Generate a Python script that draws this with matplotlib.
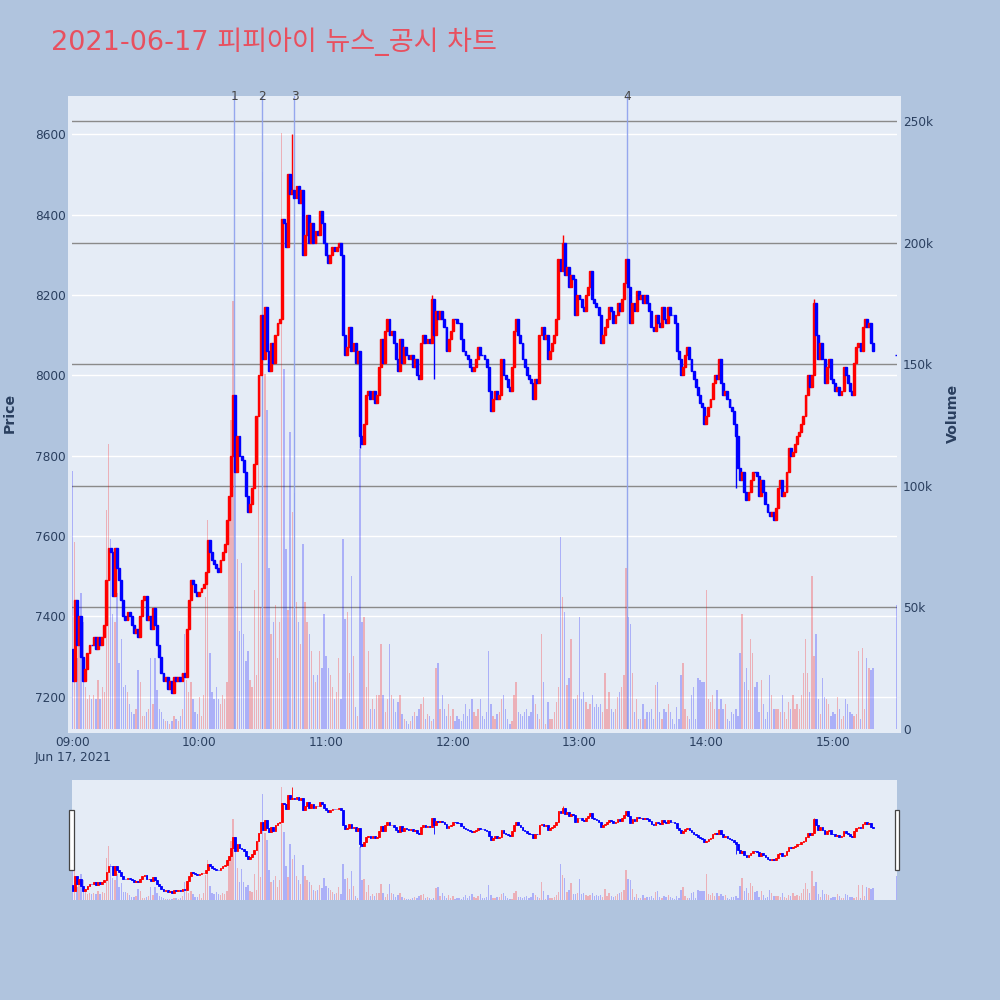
import matplotlib
matplotlib.use('Agg')
import matplotlib.pyplot as plt
import numpy as np
from matplotlib.patches import Rectangle
from matplotlib.transforms import blended_transform_factory

# ---------------- data ----------------
title = "2021-06-17 피피아이 뉴스_공시 차트"
first_open = 7320
closes = [
    7240, 7440, 7330, 7400, 7300, 7240, 7270, 7310, 7330, 7330,
    7350, 7320, 7350, 7330, 7350, 7380, 7490, 7570, 7560, 7450,
    7570, 7520, 7490, 7440, 7400, 7390, 7410, 7400, 7380, 7360,
    7370, 7350, 7400, 7440, 7450, 7390, 7400, 7370, 7420, 7380,
    7330, 7300, 7260, 7240, 7250, 7220, 7240, 7210, 7250, 7240,
    7250, 7240, 7260, 7250, 7370, 7440, 7490, 7480, 7460, 7450,
    7460, 7470, 7480, 7510, 7590, 7560, 7540, 7530, 7520, 7510,
    7540, 7560, 7580, 7640, 7700, 7800, 7950, 7760, 7850, 7800,
    7790, 7760, 7700, 7660, 7680, 7720, 7780, 7900, 8000, 8150,
    8040, 8170, 8060, 8010, 8080, 8030, 8100, 8130, 8140, 8390,
    8380, 8320, 8500, 8450, 8460, 8440, 8470, 8430, 8460, 8300,
    8350, 8400, 8330, 8380, 8330, 8360, 8350, 8410, 8380, 8330,
    8300, 8280, 8300, 8320, 8310, 8320, 8330, 8300, 8100, 8050,
    8070, 8120, 8060, 8080, 8030, 8060, 7850, 7830, 7880, 7950,
    7960, 7940, 7960, 7930, 7950, 8020, 8090, 8030, 8110, 8140,
    8100, 8110, 8080, 8040, 8010, 8090, 8030, 8070, 8050, 8040,
    8050, 8020, 8040, 8000, 7990, 8080, 8100, 8080, 8090, 8080,
    8190, 8100, 8160, 8140, 8160, 8140, 8120, 8060, 8090, 8110,
    8140, 8140, 8130, 8130, 8090, 8060, 8050, 8040, 8020, 8010,
    8020, 8040, 8070, 8050, 8050, 8040, 8020, 7960, 7910, 7940,
    7960, 7940, 7950, 8040, 8000, 7990, 7970, 7960, 8020, 8110,
    8140, 8100, 8080, 8040, 8020, 8000, 7990, 7980, 7940, 7990,
    7980, 8100, 8120, 8090, 8100, 8040, 8060, 8080, 8100, 8140,
    8290, 8260, 8330, 8250, 8270, 8220, 8250, 8240, 8150, 8200,
    8190, 8170, 8160, 8200, 8220, 8260, 8190, 8180, 8170, 8150,
    8080, 8100, 8120, 8140, 8170, 8160, 8130, 8150, 8180, 8160,
    8190, 8230, 8290, 8220, 8130, 8180, 8160, 8210, 8190, 8200,
    8180, 8200, 8180, 8160, 8120, 8110, 8150, 8130, 8120, 8170,
    8140, 8130, 8170, 8150, 8150, 8130, 8060, 8040, 8000, 8020,
    8050, 8070, 8040, 8010, 7990, 7970, 7950, 7930, 7920, 7880,
    7900, 7920, 7940, 7980, 8000, 7990, 8040, 7980, 7950, 7960,
    7940, 7920, 7910, 7880, 7850, 7770, 7740, 7760, 7710, 7690,
    7710, 7740, 7760, 7760, 7750, 7700, 7740, 7710, 7680, 7660,
    7650, 7660, 7640, 7670, 7720, 7740, 7700, 7710, 7760, 7820,
    7800, 7810, 7830, 7850, 7860, 7880, 7900, 7950, 8000, 7970,
    8000, 8180, 8100, 8040, 8080, 8040, 7980, 8020, 8040, 7990,
    7980, 7960, 7970, 7950, 7960, 8020, 8000, 7980, 7960, 7950,
    8030, 8070, 8080, 8060, 8120, 8140, 8120, 8130, 8080, 8060,
]
volumes_k = [
    106, 77, 29, 44, 56, 44, 17, 12, 14, 12,
    14, 12, 20, 12, 17, 15, 90, 117, 78, 47,
    44, 56, 27, 37, 17, 18, 15, 10, 7, 6,
    8, 24, 19, 5, 5, 7, 8, 29, 10, 29,
    16, 8, 7, 4, 3, 3, 2, 3, 5, 4,
    3, 5, 8, 39, 20, 15, 19, 12, 7, 6,
    13, 5, 14, 54, 86, 31, 15, 12, 17, 12,
    10, 14, 12, 19, 95, 127, 176, 115, 70, 40,
    68, 39, 28, 32, 20, 17, 57, 22, 145, 50,
    229, 146, 131, 66, 39, 44, 51, 29, 44, 245,
    148, 74, 49, 122, 89, 97, 52, 44, 35, 76,
    52, 44, 39, 32, 22, 19, 22, 32, 25, 47,
    30, 25, 22, 17, 12, 15, 29, 12, 78, 45,
    48, 23, 63, 30, 9, 5, 115, 44, 46, 17,
    32, 8, 12, 8, 14, 14, 35, 14, 7, 12,
    35, 14, 12, 7, 11, 14, 6, 4, 3, 2,
    3, 5, 7, 5, 8, 10, 13, 4, 6, 5,
    3, 4, 25, 27, 8, 14, 8, 5, 10, 5,
    8, 3, 5, 4, 3, 6, 10, 5, 8, 12,
    7, 5, 8, 12, 5, 4, 7, 32, 10, 5,
    4, 6, 7, 12, 14, 8, 4, 2, 3, 14,
    19, 7, 6, 5, 7, 8, 5, 7, 14, 10,
    6, 4, 39, 19, 2, 11, 4, 4, 7, 11,
    17, 79, 54, 48, 18, 21, 37, 12, 12, 14,
    46, 12, 15, 11, 8, 10, 14, 9, 10, 9,
    10, 7, 23, 8, 15, 8, 7, 8, 13, 15,
    17, 22, 66, 46, 43, 23, 7, 12, 4, 4,
    10, 4, 7, 7, 8, 4, 18, 19, 7, 4,
    8, 7, 10, 7, 4, 2, 9, 4, 22, 27,
    8, 5, 4, 14, 17, 4, 21, 20, 19, 19,
    57, 12, 11, 14, 8, 16, 8, 12, 8, 10,
    4, 3, 7, 6, 8, 5, 31, 47, 19, 25,
    16, 37, 31, 17, 19, 7, 20, 10, 4, 7,
    22, 14, 8, 8, 8, 7, 14, 7, 4, 11,
    8, 14, 8, 10, 8, 14, 23, 37, 23, 15,
    63, 30, 39, 12, 6, 21, 13, 12, 10, 5,
    7, 6, 13, 8, 4, 5, 12, 10, 7, 6,
    5, 6, 32, 4, 33, 8, 29, 25, 24, 25,
]
# closing auction (15:30)
auction_minute = 390
auction_price = 8050
auction_volume_k = 51
# notable wicks {minute: price}
wick_high = {104: 8600, 170: 8200, 232: 8348, 351: 8190}
wick_low = {136: 7820, 171: 7990, 314: 7720}
# news / disclosure markers (minutes after 09:00)
event_minutes = [76.6, 89.6, 105.0, 262.6]
event_labels = ["1", "2", "3", "4"]

price_ticks = [7200, 7400, 7600, 7800, 8000, 8200, 8400, 8600]
vol_ticks = [0, 50000, 100000, 150000, 200000, 250000]
vol_tick_labels = ["0", "50k", "100k", "150k", "200k", "250k"]
time_tick_minutes = [0, 60, 120, 180, 240, 300, 360]
time_tick_labels = ["09:00", "10:00", "11:00", "12:00", "13:00", "14:00", "15:00"]
date_label = "Jun 17, 2021"

# ---------------- derived ----------------
closes = np.array(closes, dtype=float)
opens = np.concatenate([[first_open], closes[:-1]])
x = np.arange(len(closes), dtype=float)
highs = np.maximum(opens, closes)
lows = np.minimum(opens, closes)
for k, v in wick_high.items():
    highs[k] = max(highs[k], v)
for k, v in wick_low.items():
    lows[k] = min(lows[k], v)
vols = np.array(volumes_k, dtype=float) * 1000

x_all = np.append(x, auction_minute)
o_all = np.append(opens, auction_price)
c_all = np.append(closes, auction_price)
h_all = np.append(highs, auction_price)
l_all = np.append(lows, auction_price)
v_all = np.append(vols, auction_volume_k * 1000)
up = c_all > o_all

RED = "#FF0000"
BLUE = "#0000FF"
cand_col = np.where(up, RED, BLUE)
vol_col = [(1.0, 0.0, 0.0, 0.25) if u else (0.0, 0.0, 1.0, 0.25) for u in up]

BG = "#B0C4DE"
PLOT_BG = "#E5ECF6"
TXT = "#2a3f5f"
FONT = ["DejaVu Sans", "Noto Sans CJK KR"]
plt.rcParams["font.family"] = FONT

XLIM = (-0.3, 390.3)
PLIM = (7120, 8695)
VLIM = (-150, 260400)

fig = plt.figure(figsize=(10, 10), dpi=100, facecolor=BG)

# plot background frame (slightly larger than the data area)
fig.patches.append(Rectangle((0.068, 1 - 0.733), 0.833, 0.637, transform=fig.transFigure,
                             facecolor=PLOT_BG, edgecolor="none", zorder=-1))

ax_v = fig.add_axes([0.072, 0.271, 0.825, 0.633])
ax_p = ax_v.twinx()
ax_v.set_facecolor(PLOT_BG)
ax_p.patch.set_visible(False)
for a in (ax_v, ax_p):
    for s in a.spines.values():
        s.set_visible(False)
    a.set_xlim(*XLIM)
ax_p.set_ylim(*PLIM)
ax_v.set_ylim(*VLIM)

# price gridlines (white) drawn on the volume axes beneath everything
tr = blended_transform_factory(ax_v.transAxes, ax_p.transData)
for p in price_ticks:
    ax_v.plot([0, 1], [p, p], color="white", lw=1.0, transform=tr, zorder=0.3)
# volume gridlines (gray)
for v in vol_ticks[1:]:
    ax_v.axhline(v, color="#8a8a8a", lw=1.0, zorder=0.4)

# volume bars
ax_v.bar(x_all, v_all, width=0.65, color=vol_col, edgecolor="none", zorder=1)

# event lines
for m in event_minutes:
    ax_p.axvline(m, color="#8CA0EE", lw=1.0, alpha=0.9, zorder=1.5)
for m, lab in zip(event_minutes, event_labels):
    ax_p.text(m, 1.0, lab, transform=blended_transform_factory(ax_p.transData, ax_p.transAxes),
              ha="center", va="center", fontsize=8.7, color="#444444", clip_on=False, zorder=5)

# candles
ax_p.vlines(x_all, l_all, h_all, colors=cand_col, lw=1.0, zorder=2)
ax_p.bar(x_all, c_all - o_all, bottom=o_all, width=0.9, color=cand_col,
         edgecolor=cand_col, linewidth=1.0, zorder=3)

# ticks
ax_p.yaxis.tick_left()
ax_p.set_yticks(price_ticks)
ax_p.set_yticklabels([str(p) for p in price_ticks])
ax_v.yaxis.tick_right()
ax_v.set_yticks(vol_ticks)
ax_v.set_yticklabels(vol_tick_labels)
ax_v.set_xticks(time_tick_minutes)
ax_v.set_xticklabels(time_tick_labels)
ax_p.tick_params(axis="y", length=0, pad=4.3, labelsize=8.7, labelcolor=TXT)
ax_v.tick_params(axis="y", length=0, pad=4.3, labelsize=8.7, labelcolor=TXT)
ax_v.tick_params(axis="x", length=0, pad=5.0, labelsize=8.7, labelcolor=TXT)
ax_p.tick_params(axis="x", length=0, labelbottom=False)
ax_v.grid(False)
ax_p.grid(False)

fig.text(0.0725, 1 - 0.757, date_label, ha="center", va="center", fontsize=8.7, color=TXT)
fig.text(0.010, 1 - 0.413, "Price", rotation=90, ha="center", va="center",
         fontsize=10.2, fontweight="bold", color=TXT)
fig.text(0.953, 1 - 0.413, "Volume", rotation=90, ha="center", va="center",
         fontsize=10.2, fontweight="bold", color=TXT)
fig.text(0.051, 1 - 0.0505, title, ha="left", va="baseline", fontsize=19.5,
         color="#E8505F", family=FONT)

# ---------------- range slider ----------------
rs_v = fig.add_axes([0.072, 0.100, 0.825, 0.120])
rs_p = rs_v.twinx()
rs_v.set_facecolor(PLOT_BG)
rs_p.patch.set_visible(False)
for a in (rs_v, rs_p):
    for s in a.spines.values():
        s.set_visible(False)
    a.set_xlim(*XLIM)
    a.set_xticks([])
    a.set_yticks([])
rs_p.set_ylim(*PLIM)
rs_v.set_ylim(*VLIM)
rs_v.bar(x_all, v_all, width=0.65, color=vol_col, edgecolor="none", zorder=1)
rs_p.vlines(x_all, l_all, h_all, colors=cand_col, lw=0.6, zorder=2)
rs_p.bar(x_all, c_all - o_all, bottom=o_all, width=0.8, color=cand_col,
         edgecolor=cand_col, linewidth=0.6, zorder=3)

for hx in (0.0692, 0.8946):
    fig.patches.append(Rectangle((hx, 1 - 0.870), 0.0043, 0.060, transform=fig.transFigure,
                                 facecolor="white", edgecolor="#444444", lw=0.9, zorder=5))

fig.savefig("out.png", dpi=100, facecolor=BG)
